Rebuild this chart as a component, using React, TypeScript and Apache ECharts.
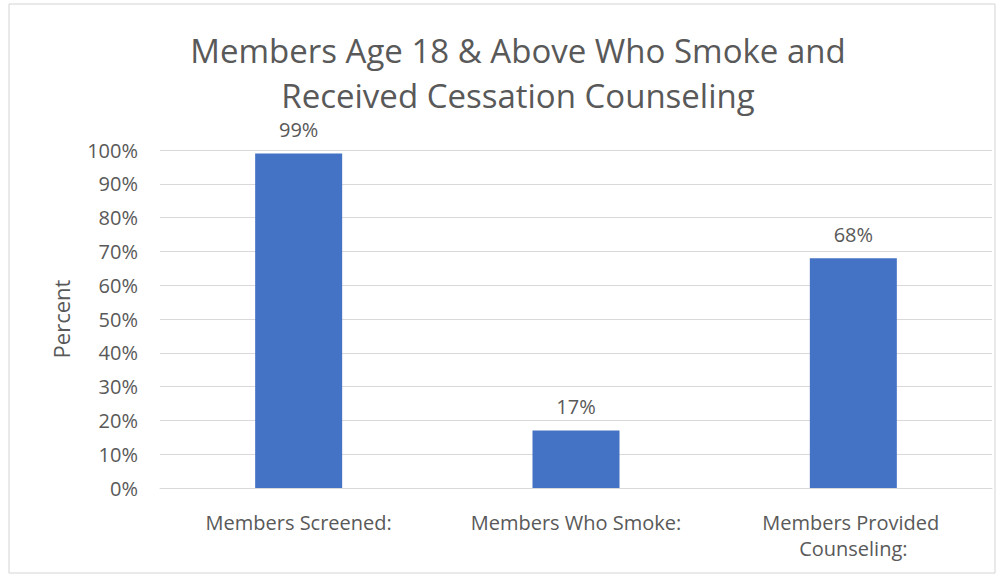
import React, { useEffect, useRef } from "react";
import * as echarts from "echarts";

const titleLines = ["Members Age 18 & Above Who Smoke and", "Received Cessation Counseling"];
const categories = ["Members Screened:", "Members Who Smoke:", "Members Provided Counseling:"];
const values = [99, 17, 68];
const yTicks = { min: 0, max: 100, interval: 10 };
const yAxisName = "Percent";

const TEXT = "#595959";
const FONT = "'Open Sans', Lato, sans-serif";

export default function App() {
  const ref = useRef<HTMLDivElement>(null);
  useEffect(() => {
    if (!ref.current) return;
    const chart = echarts.init(ref.current, undefined, { renderer: "svg" });
    const titleStyle = { fontFamily: FONT, fontSize: 33, fontWeight: "normal", color: TEXT, lineHeight: 34 };
    chart.setOption({
      animation: false,
      backgroundColor: "#ffffff",
      textStyle: { fontFamily: FONT },
      title: {
        text: titleLines[0],
        subtext: titleLines[1],
        left: 513,
        top: 28,
        itemGap: 11,
        textAlign: "center",
        textStyle: titleStyle,
        subtextStyle: titleStyle,
      },
      graphic: [
        {
          type: "rect",
          shape: { x: 9, y: 4, width: 986, height: 569 },
          style: { fill: "none", stroke: "#d4d4d4", lineWidth: 1 },
          z: -1,
        },
      ],
      grid: { left: 160, right: 12, top: 150, bottom: 89 },
      xAxis: {
        type: "category",
        data: categories,
        axisLine: { show: true, lineStyle: { color: "#d9d9d9", width: 1 } },
        axisTick: { show: false },
        axisLabel: {
          color: TEXT,
          fontSize: 20,
          fontFamily: FONT,
          margin: 21,
          lineHeight: 26,
          width: 230,
          overflow: "break",
          interval: 0,
        },
      },
      yAxis: {
        type: "value",
        min: yTicks.min,
        max: yTicks.max,
        interval: yTicks.interval,
        name: yAxisName,
        nameLocation: "middle",
        nameGap: 88,
        nameRotate: 90,
        nameTextStyle: { color: TEXT, fontSize: 22, fontFamily: FONT },
        axisLine: { show: false },
        axisTick: { show: false },
        axisLabel: { color: TEXT, fontSize: 20, fontFamily: FONT, margin: 22, formatter: "{value}%" },
        splitLine: { lineStyle: { color: "#d9d9d9", width: 1 } },
      },
      series: [
        {
          type: "bar",
          data: values,
          barWidth: 87,
          itemStyle: { color: "#4472c4" },
          label: {
            show: true,
            position: "top",
            distance: 14,
            color: TEXT,
            fontSize: 20,
            fontFamily: FONT,
            formatter: "{c}%",
          },
        },
      ],
    });
    return () => chart.dispose();
  }, []);
  return <div ref={ref} style={{ position: "fixed", left: 0, top: 0, width: 1004, height: 577 }} />;
}
